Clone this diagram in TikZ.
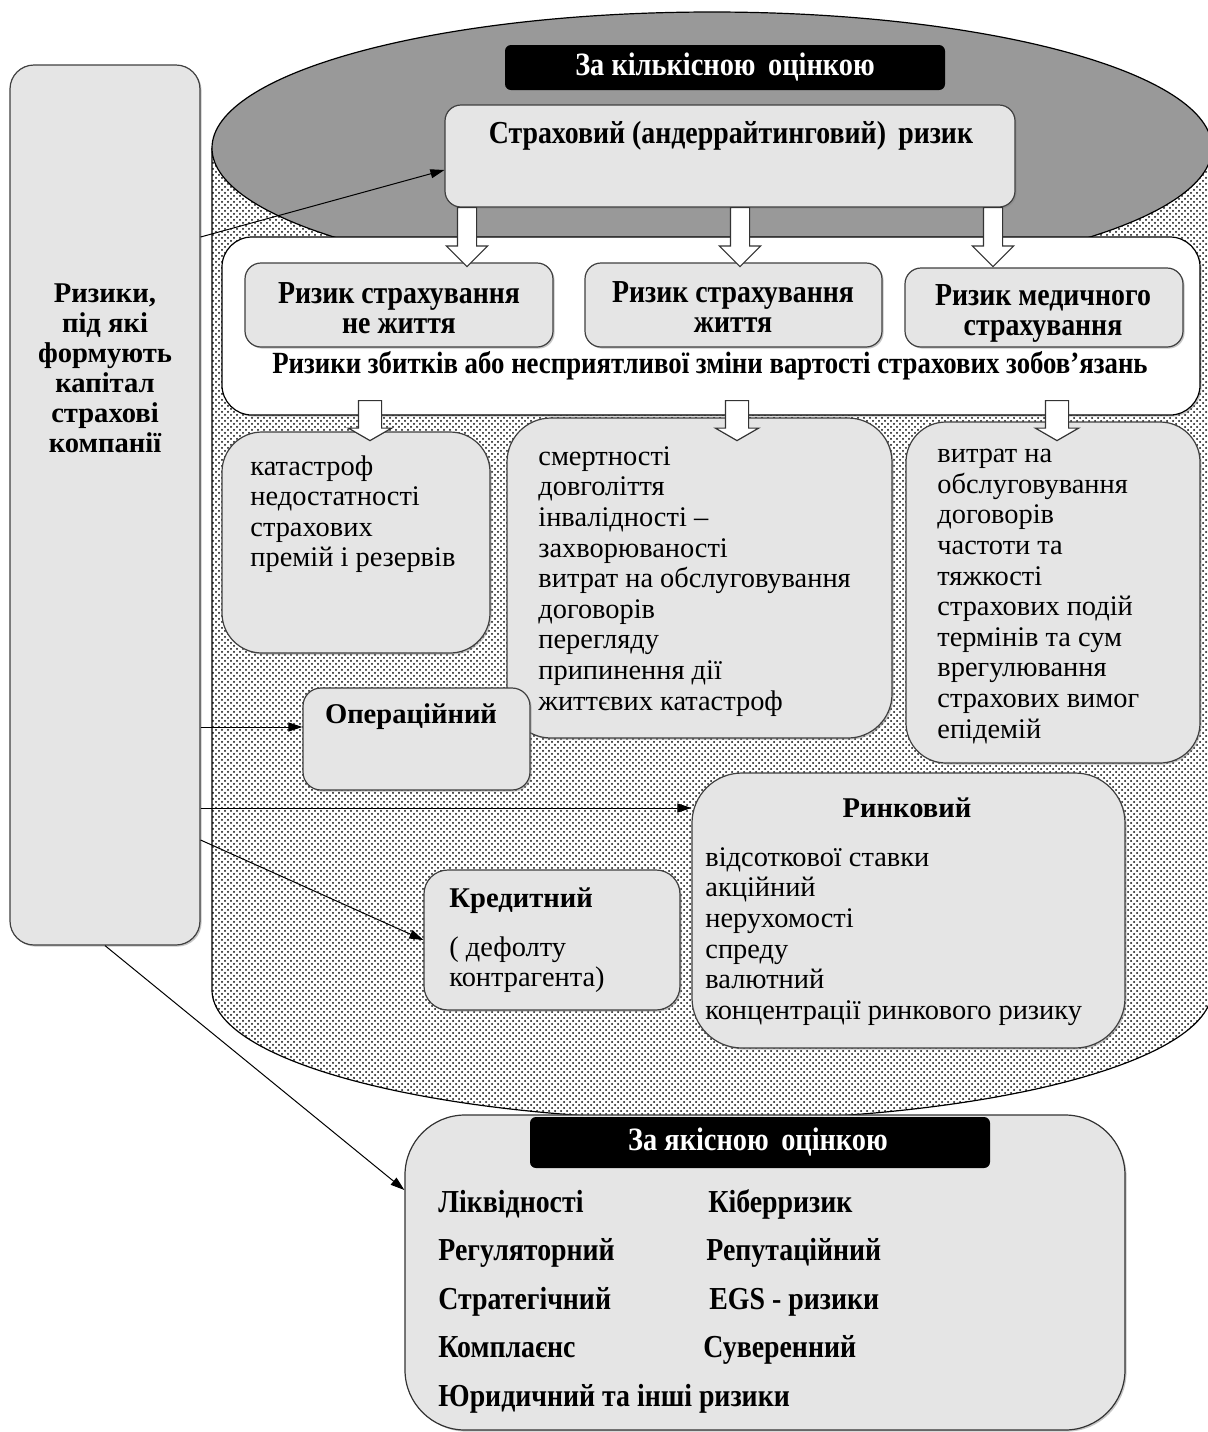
\documentclass[tikz,border=0pt]{standalone}
\usepackage{fontspec}
\setmainfont{Liberation Serif}
\newfontfamily\condfont[FakeStretch=0.87]{Liberation Serif}
\usetikzlibrary{shapes.arrows, arrows.meta, positioning, calc, patterns, fit, shadows}

\newcommand{\listsize}{\fontsize{14.2}{15.3}\selectfont}
\newcommand{\headsize}{\fontsize{14.3}{15}\selectfont\bfseries}
\newcommand{\condsize}{\condfont\fontsize{16}{15}\selectfont\bfseries}

\tikzset{
  box/.style={draw=black!75, fill=gray!20, line width=0.6pt, rounded corners=#1, inner sep=0pt,
    drop shadow={shadow xshift=0.8pt, shadow yshift=-0.8pt, opacity=0.45}},
  box/.default=8pt,
  hdr/.style={fill=black, rounded corners=3pt, inner sep=0pt},
  hdrtxt/.style={text=white, inner sep=0pt, font=\condfont\fontsize{16.3}{15}\selectfont\bfseries},
  listtxt/.style={align=left, inner sep=0pt, font=\listsize, anchor=north west},
  ttl/.style={align=center, inner sep=0pt, font=\headsize},
  cttl/.style={align=center, inner sep=0pt, font=\condsize},
  item/.style={anchor=base west, inner sep=0pt, font=\condsize},
  conn/.style={-{Triangle[length=7pt,width=4.5pt]}, line width=0.5pt},
  bigarrow/.style={single arrow, draw=black!80, fill=white, line width=0.6pt, rotate=-90, anchor=tail,
    inner sep=4.5pt, single arrow head extend=5.5pt, minimum height=29.5pt},
  smallarrow/.style={single arrow, draw=black!80, fill=white, line width=0.6pt, rotate=-90, anchor=tail,
    inner sep=5.5pt, single arrow head extend=5pt, single arrow tip angle=120, minimum height=20pt},
}

\begin{document}
\begin{tikzpicture}[x=0.5pt, y=-0.5pt]
  \useasboundingbox (0,0) rectangle (1208,1432);

  % === Cylinder (quantitative assessment) ===
  \path[fill=gray!22, pattern=crosshatch dots, pattern color=black!75]
    (212,148) -- (212,990) arc[start angle=180, end angle=0, x radius=500, y radius=130] -- (1212,148) -- cycle;
  \path[pattern=crosshatch dots, pattern color=black!75]
    (212,148) -- (212,990) arc[start angle=180, end angle=0, x radius=500, y radius=130] -- (1212,148) -- cycle;
  \draw[line width=0.6pt] (212,148) -- (212,990) arc[start angle=180, end angle=0, x radius=500, y radius=130];
  \draw[line width=0.6pt, fill=black!40] (712,148) ellipse [x radius=500, y radius=136];

  \node[hdr, fit={(505,45) (945,90)}] (quanthdr) {};
  \node[hdrtxt] at (quanthdr.center) {За кількісною\, оцінкою};

  % Underwriting risk
  \node[box=8pt, fit={(445,105) (1015,207)}] (uw) {};
  \node[cttl] (uwtitle) at (731,136) {Страховий (андеррайтинговий)\, ризик};

  % Loss risks panel
  \node[box=15pt, fill=white, draw=black, fit={(222,237) (1200,415)}] (losses) {};
  \node[box=8pt, fit={(245,263) (553,347)}] (nonlife) {};
  \node[cttl] at (399,308) {Ризик страхування\\не життя};
  \node[box=8pt, fit={(585,263) (882,347)}] (life) {};
  \node[cttl] at (733,307) {Ризик страхування\\життя};
  \node[box=8pt, fit={(905,268) (1183,347)}] (med) {};
  \node[cttl] at (1043,313) {Ризик медичного\\страхування};
  \node[inner sep=0pt, font=\condfont\fontsize{15.4}{15}\selectfont\bfseries] (losscap) at (710,366)
    {Ризики збитків або несприятливої зміни вартості страхових зобов’язань};

  % Block arrows, first row
  \node[bigarrow] (a1) at (467,207) {};
  \node[bigarrow] (a2) at (740,207) {};
  \node[bigarrow] (a3) at (993,207) {};

  % Detail boxes
  \node[box=20pt, fit={(222,432) (490,653)}] (nonlifedet) {};
  \node[listtxt] at (250,455) {катастроф\\недостатності\\страхових\\премій і резервів};

  \node[box=22pt, fit={(507,418) (892,738)}] (lifedet) {};
  \node[listtxt] at (538,446) {смертності\\довголіття\\інвалідності –\\захворюваності\\витрат на обслуговування\\договорів\\перегляду\\припинення дії\\життєвих катастроф};

  \node[box=20pt, fit={(906,422) (1200,763)}] (meddet) {};
  \node[listtxt] at (937,449) {витрат на\\обслуговування\\договорів\\частоти та\\тяжкості\\страхових подій\\термінів та сум\\врегулювання\\страхових вимог\\епідемій};

  % Block arrows, second row
  \node[smallarrow] (b1) at (370,400) {};
  \node[smallarrow] (b2) at (737,400) {};
  \node[smallarrow] (b3) at (1057,400) {};

  % Operational, market, credit
  \node[box=9pt, fit={(303,688) (530,790)}] (oper) {};
  \node[ttl] (opertitle) at (411,717) {Операційний};

  \node[box=25pt, fit={(692,773) (1125,1048)}] (market) {};
  \node[ttl] (markettitle) at (907,808) {Ринковий};
  \node[listtxt] at (705,847) {відсоткової ставки\\акційний\\нерухомості\\спреду\\валютний\\концентрації ринкового ризику};

  \node[box=12pt, fit={(424,870) (680,1010)}] (credit) {};
  \node[ttl, anchor=base west] (credittitle) at (449,907) {Кредитний};
  \node[listtxt] at (449,936) {( дефолту\\контрагента)};

  % === Qualitative assessment ===
  \node[box=30pt, draw=black!80, fit={(405,1115) (1125,1430)}] (quality) {};
  \node[hdr, fit={(530,1117) (990,1168)}] (qualhdr) {};
  \node[hdrtxt] at (758,1142) {За якісною\, оцінкою};
  \node[item] at (438,1212) {Ліквідності};
  \node[item] at (438,1260) {Регуляторний};
  \node[item] at (438,1309) {Стратегічний};
  \node[item] at (438,1357) {Комплаєнс};
  \node[item] at (438,1406) {Юридичний та інші ризики};
  \node[item] at (708,1212) {Кіберризик};
  \node[item] at (706,1260) {Репутаційний};
  \node[item] at (709,1309) {EGS - ризики};
  \node[item] at (703,1357) {Суверенний};

  % === Risks forming the capital ===
  \node[box=12pt, fit={(10,65) (200,945)}] (risks) {};
  \node[ttl] at (105,368) {Ризики,\\під які\\формують\\капітал\\страхові\\компанії};

  % Connectors
  \coordinate (r1) at (risks.east |- 0,237);
  \coordinate (r2) at (risks.east |- 0,727);
  \coordinate (r4) at (risks.east |- 0,840);
  \draw[conn] (r1) -- (uw.west |- 0,170);
  \draw[conn] (r2) -- (oper.west |- r2);
  \draw[conn] (risks.east |- markettitle) -- (market.west |- markettitle);
  \draw[conn] (r4) -- (credit.west);
  \draw[conn] (risks.south) -- (quality.west |- 0,1190);
\end{tikzpicture}
\end{document}
